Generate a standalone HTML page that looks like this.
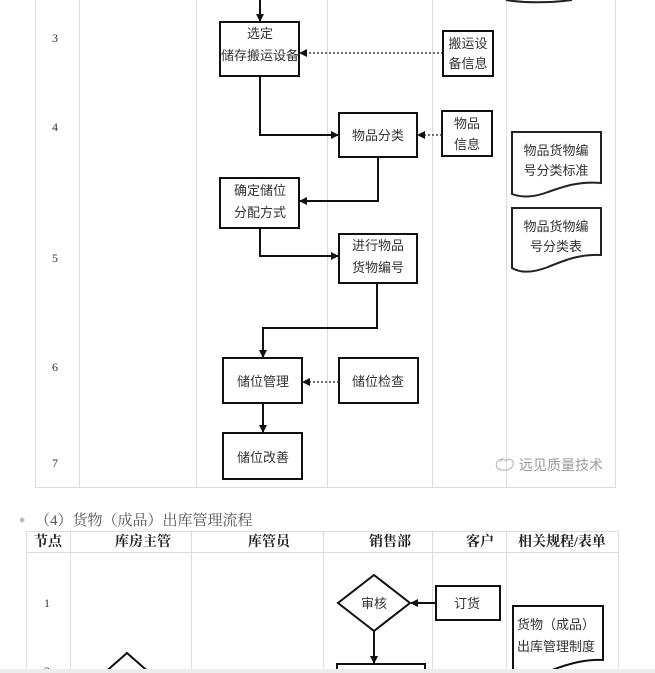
<!DOCTYPE html>
<html><head><meta charset="utf-8">
<style>
html,body{margin:0;padding:0;background:#fff;}
svg{display:block;}
.t{font-family:"Liberation Sans","Noto Sans CJK SC",sans-serif;font-size:13px;fill:#333;text-anchor:middle;}
.n{font-family:"Liberation Serif","Noto Serif CJK SC",serif;font-size:12px;fill:#333;text-anchor:middle;}
.h{font-family:"Liberation Serif","Noto Serif CJK SC",serif;font-size:14px;font-weight:bold;fill:#222;text-anchor:middle;}
</style></head>
<body>
<svg width="655" height="673" viewBox="0 0 655 673" xmlns="http://www.w3.org/2000/svg">
<defs>
<marker id="a" markerWidth="8" markerHeight="8" refX="7" refY="4" orient="auto" markerUnits="userSpaceOnUse">
<path d="M0,0 L8,4 L0,8 Z" fill="#111"/>
</marker>
</defs>
<rect width="655" height="673" fill="#fff"/>

<!-- Table 1 grid -->
<g stroke="#dcdcdc" stroke-width="1">
<line x1="35.5" y1="0" x2="35.5" y2="487"/>
<line x1="79.5" y1="0" x2="79.5" y2="487"/>
<line x1="196.5" y1="0" x2="196.5" y2="487"/>
<line x1="327.5" y1="0" x2="327.5" y2="487"/>
<line x1="432.5" y1="0" x2="432.5" y2="487"/>
<line x1="506.5" y1="0" x2="506.5" y2="487"/>
<line x1="615.5" y1="0" x2="615.5" y2="487"/>
<line x1="35" y1="487.5" x2="616" y2="487.5"/>
</g>

<!-- row numbers -->
<text class="n" x="55" y="42">3</text>
<text class="n" x="55" y="131">4</text>
<text class="n" x="55" y="262">5</text>
<text class="n" x="55" y="371">6</text>
<text class="n" x="55" y="467">7</text>

<!-- top document fragment -->
<path d="M506,0 C525,3 550,3 572,0" fill="none" stroke="#222" stroke-width="2"/>

<!-- connectors -->
<g stroke="#111" stroke-width="2" fill="none">
<line x1="260" y1="0" x2="260" y2="21" marker-end="url(#a)"/>
<polyline points="260,76 260,135 338,135" marker-end="url(#a)"/>
<polyline points="378,157 378,201 300,201" marker-end="url(#a)"/>
<polyline points="260,228 260,256 338,256" marker-end="url(#a)"/>
<polyline points="377,283 377,328 263,328 263,357" marker-end="url(#a)"/>
<line x1="263" y1="403" x2="263" y2="432" marker-end="url(#a)"/>
</g>
<g stroke="#444" stroke-width="1.5" fill="none" stroke-dasharray="2,2">
<line x1="443" y1="53" x2="300" y2="53" marker-end="url(#a)"/>
<line x1="442" y1="135" x2="418" y2="135" marker-end="url(#a)"/>
<line x1="339" y1="382" x2="303" y2="382" marker-end="url(#a)"/>
</g>

<!-- boxes -->
<g stroke="#111" stroke-width="2" fill="#fff">
<rect x="220" y="22" width="79" height="54"/>
<rect x="443" y="31" width="50" height="45"/>
<rect x="339" y="113" width="78" height="44"/>
<rect x="442" y="111" width="50" height="45"/>
<rect x="220" y="178" width="79" height="50"/>
<rect x="339" y="234" width="78" height="49"/>
<rect x="223" y="358" width="79" height="45"/>
<rect x="339" y="358" width="79" height="45"/>
<rect x="223" y="433" width="79" height="46"/>
</g>
<g stroke="#222" stroke-width="2" fill="#fff">
<path d="M512,132 H601 V183 C580,181 565,186 548,192 C535,197 522,198 512,194 Z"/>
<path d="M512,208 H601 V255 C580,254 565,260 548,267 C535,272 522,274 512,268 Z"/>
</g>

<text class="t" x="260" y="38">选定</text>
<text class="t" x="260" y="60">储存搬运设备</text>
<text class="t" x="468" y="48">搬运设</text>
<text class="t" x="468" y="68">备信息</text>
<text class="t" x="378" y="140">物品分类</text>
<text class="t" x="467" y="128">物品</text>
<text class="t" x="467" y="149">信息</text>
<text class="t" x="260" y="195">确定储位</text>
<text class="t" x="260" y="217">分配方式</text>
<text class="t" x="378" y="250">进行物品</text>
<text class="t" x="378" y="272">货物编号</text>
<text class="t" x="263" y="386">储位管理</text>
<text class="t" x="378" y="386">储位检查</text>
<text class="t" x="263" y="462">储位改善</text>
<text class="t" x="556" y="155">物品货物编</text>
<text class="t" x="556" y="175">号分类标准</text>
<text class="t" x="556" y="231">物品货物编</text>
<text class="t" x="556" y="251">号分类表</text>

<!-- watermark -->
<g stroke="#bbb" stroke-width="1.2" fill="none">
<path d="M497,468 C494,460 502,457 506,461 C510,456 516,462 512,467 C509,471 501,471 497,468 Z"/>
<path d="M500,462 L503,458"/>
</g>
<text x="519" y="470" font-family="'Liberation Sans','Noto Sans CJK SC',sans-serif" font-size="14" fill="#9a9a9a">远见质量技术</text>

<!-- Section 2 title -->
<path d="M19,520 L22,517 L25,520 L22,523 Z" fill="#bbb"/>
<text x="35" y="525" font-family="'Liberation Serif','Noto Serif CJK SC',serif" font-size="15" fill="#555">（4）货物（成品）出库管理流程</text>

<!-- Table 2 grid -->
<g stroke="#dcdcdc" stroke-width="1">
<line x1="26" y1="531.5" x2="618" y2="531.5"/>
<line x1="26" y1="552.5" x2="618" y2="552.5"/>
<line x1="26.5" y1="531" x2="26.5" y2="673"/>
<line x1="70.5" y1="531" x2="70.5" y2="673"/>
<line x1="191.5" y1="531" x2="191.5" y2="673"/>
<line x1="323.5" y1="531" x2="323.5" y2="673"/>
<line x1="432.5" y1="531" x2="432.5" y2="673"/>
<line x1="506.5" y1="531" x2="506.5" y2="673"/>
<line x1="618.5" y1="531" x2="618.5" y2="673"/>
</g>
<text class="h" x="48" y="546">节点</text>
<text class="h" x="143" y="546">库房主管</text>
<text class="h" x="269" y="546">库管员</text>
<text class="h" x="390" y="546">销售部</text>
<text class="h" x="480" y="546">客户</text>
<text class="h" x="562" y="546">相关规程/表单</text>

<text class="n" x="47" y="607">1</text>
<text class="n" x="47" y="675">2</text>

<g stroke="#111" stroke-width="2" fill="none">
<line x1="436" y1="603" x2="411" y2="603" marker-end="url(#a)"/>
<line x1="374" y1="631" x2="374" y2="663" marker-end="url(#a)"/>
</g>
<g stroke="#111" stroke-width="2" fill="#fff">
<polygon points="374,575 410,603 374,631 338,603"/>
<rect x="436" y="586" width="64" height="34"/>
<rect x="337" y="664" width="88" height="20"/>
<polygon points="127,653 152,675 102,675"/>
<path d="M513,606 H603 V660 C585,659 568,664 552,670 C538,676 525,678 513,676 Z"/>
</g>
<text class="t" x="374" y="608">审核</text>
<text class="t" x="467" y="608">订货</text>
<text x="517" y="629" font-family="'Liberation Sans','Noto Sans CJK SC',sans-serif" font-size="13" fill="#333">货物（成品）</text>
<text x="517" y="651" font-family="'Liberation Sans','Noto Sans CJK SC',sans-serif" font-size="13" fill="#333">出库管理制度</text>

<!-- bottom page edge -->
<rect x="0" y="669" width="655" height="4" fill="#ededed"/>
</svg>
</body></html>
